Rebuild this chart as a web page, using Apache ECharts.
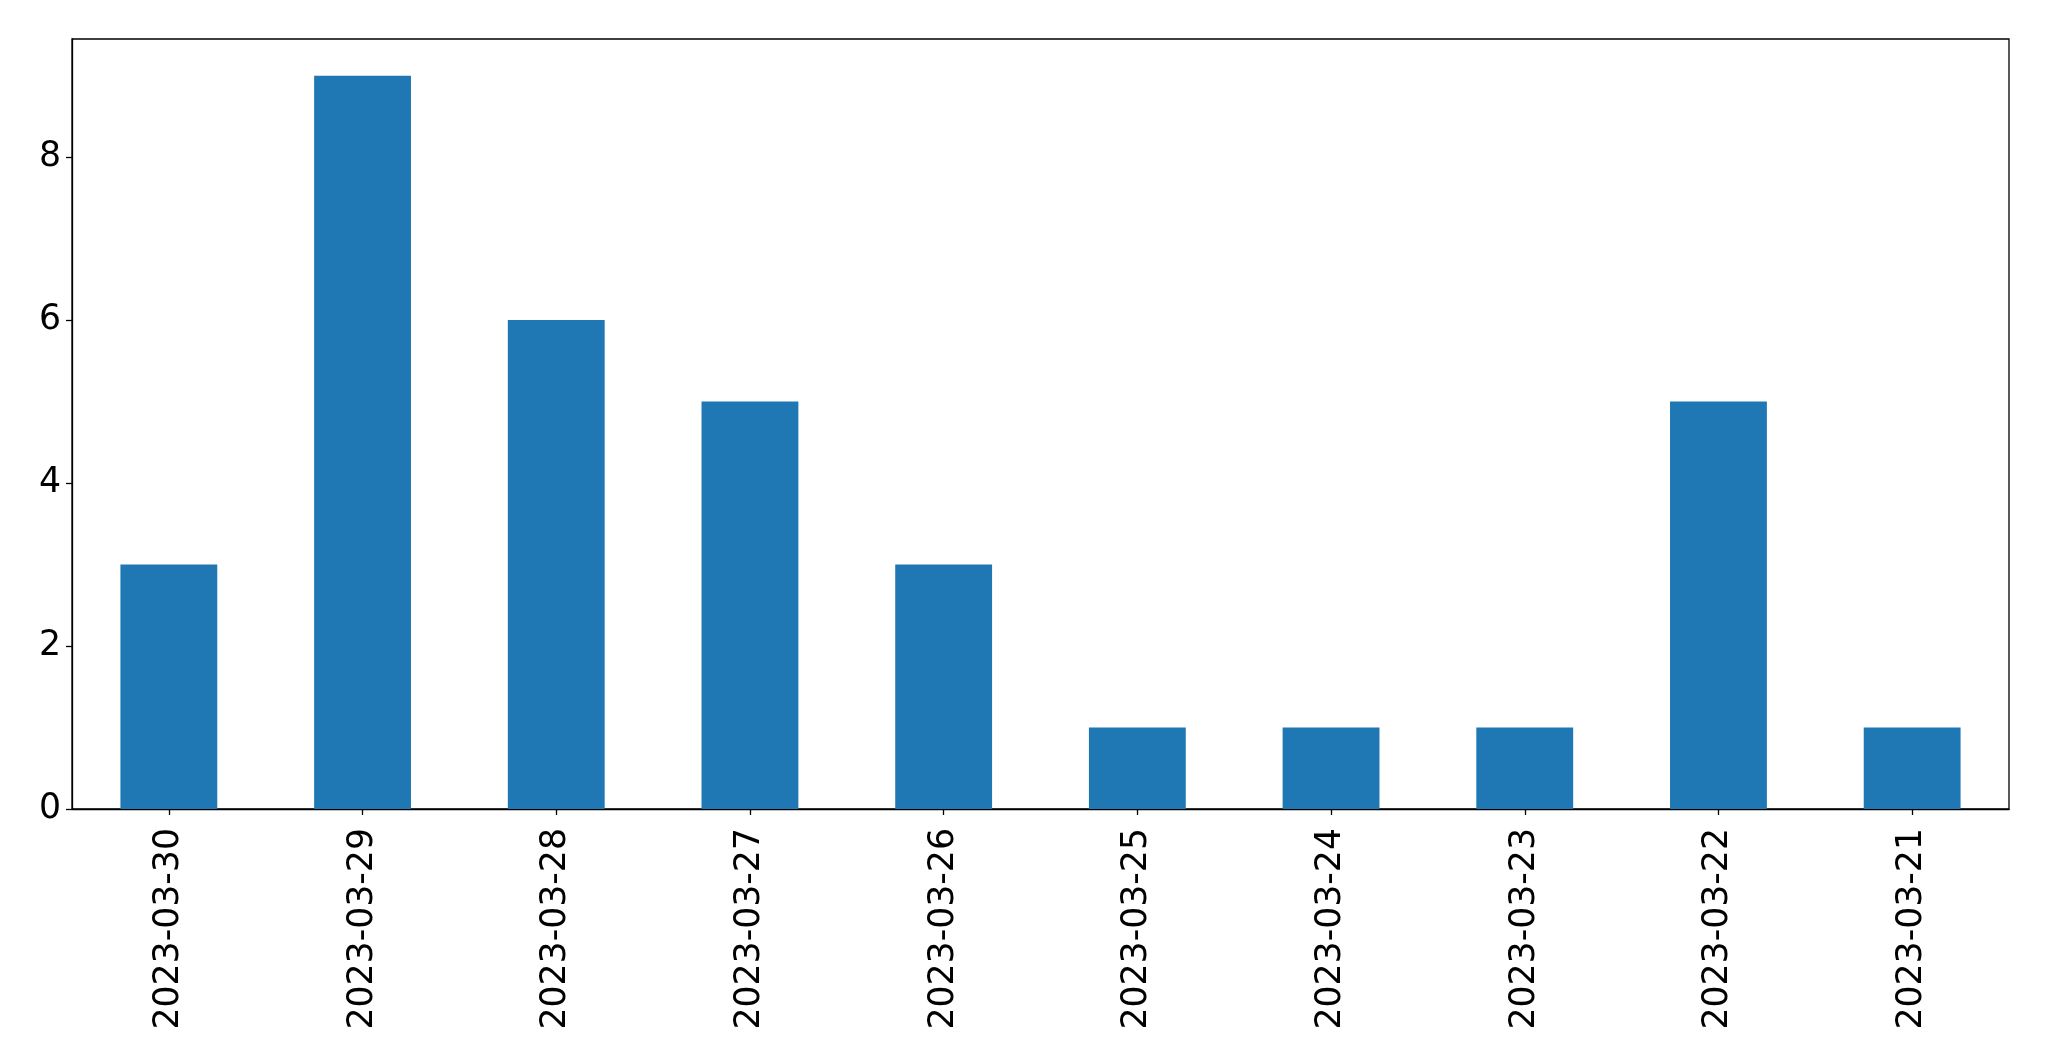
<!DOCTYPE html>
<html>
<head>
<meta charset="utf-8">
<script src="https://cdn.jsdelivr.net/npm/echarts@6/dist/echarts.min.js"></script>
<style>html,body{margin:0;padding:0;background:#fff}#c{width:2049px;height:1061px}</style>
</head>
<body>
<div id="c"></div>
<script>
const categories = ["2023-03-30","2023-03-29","2023-03-28","2023-03-27","2023-03-26","2023-03-25","2023-03-24","2023-03-23","2023-03-22","2023-03-21"];
const values = [3, 9, 6, 5, 3, 1, 1, 1, 5, 1];
const yTicks = [0, 2, 4, 6, 8];

const chart = echarts.init(document.getElementById('c'), null, {renderer: 'canvas'});
const font = 'DejaVu Sans';
chart.setOption({
  animation: false,
  backgroundColor: '#fff',
  grid: {left: 72, top: 39, width: 1937, height: 770, show: true, borderColor: '#000', borderWidth: 1.3, backgroundColor: 'transparent'},
  xAxis: {
    type: 'category',
    data: categories,
    boundaryGap: true,
    axisLine: {show: true, lineStyle: {color: '#000', width: 1.3}},
    axisTick: {show: true, alignWithLabel: true, length: 6, lineStyle: {color: '#000', width: 1.3}},
    axisLabel: {rotate: 90, fontFamily: font, fontSize: 34.7, color: '#000', margin: 19, interval: 0},
    splitLine: {show: false}
  },
  yAxis: {
    type: 'value',
    min: 0,
    max: 9.45,
    interval: 2,
    axisLine: {show: true, lineStyle: {color: '#000', width: 1.3}},
    axisTick: {show: true, length: 6, lineStyle: {color: '#000', width: 1.3}},
    axisLabel: {fontFamily: font, fontSize: 34.7, color: '#000', margin: 11, showMaxLabel: false,
      padding: [7, 0, 0, 0],
      formatter: v => yTicks.includes(v) ? String(v) : ''},
    splitLine: {show: false}
  },
  series: [{
    type: 'bar',
    data: values,
    barWidth: '50%',
    itemStyle: {color: '#1f77b4'}
  }]
});
</script>
</body>
</html>
